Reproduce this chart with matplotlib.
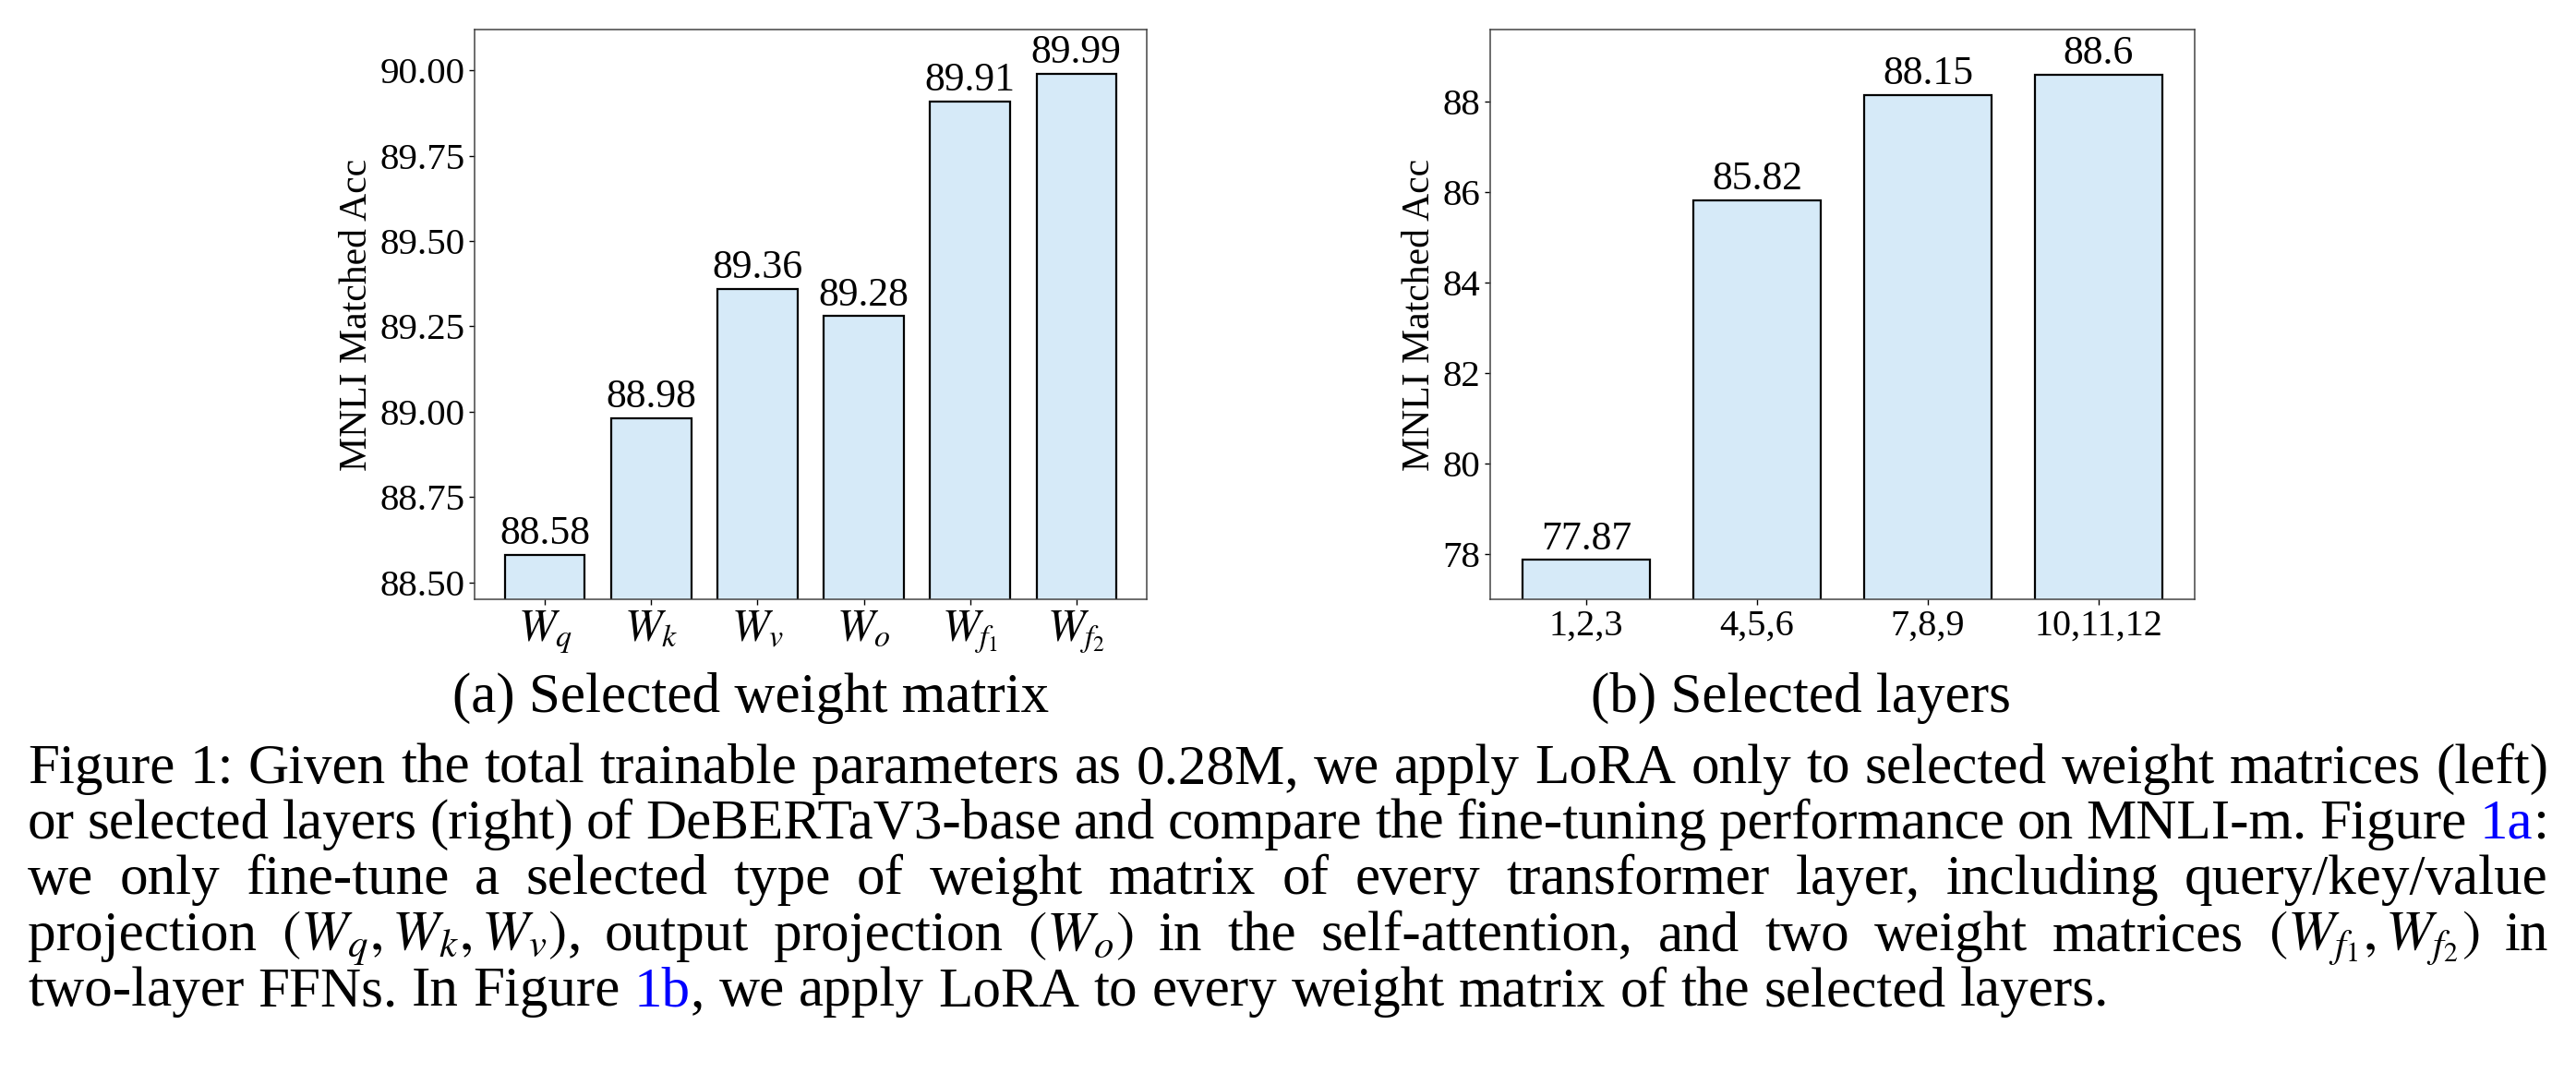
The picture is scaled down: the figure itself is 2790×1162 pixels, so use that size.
import matplotlib
matplotlib.use("Agg")
import matplotlib.pyplot as plt

# Data
weight_names = [r"$W_q$", r"$W_k$", r"$W_v$", r"$W_o$", r"$W_{f_1}$", r"$W_{f_2}$"]
weight_acc = [88.58, 88.98, 89.36, 89.28, 89.91, 89.99]

layer_groups = ["1,2,3", "4,5,6", "7,8,9", "10,11,12"]
layer_acc = [77.87, 85.82, 88.15, 88.6]

BLUE = "#0000ff"
caption_lines = [
    ["Figure", "1:", "Given", "the", "total", "trainable", "parameters", "as", "0.28M,", "we", "apply",
     "LoRA", "only", "to", "selected", "weight", "matrices", "(left)"],
    ["or", "selected", "layers", "(right)", "of", "DeBERTaV3-base", "and", "compare", "the", "fine-tuning",
     "performance", "on", "MNLI-m.", "Figure", [("1a", BLUE), (":", "black")]],
    ["we", "only", "fine-tune", "a", "selected", "type", "of", "weight", "matrix", "of", "every",
     "transformer", "layer,", "including", "query/key/value"],
    ["projection", r"$(W_q, W_k, W_v)$,", "output", "projection", r"$(W_o)$", "in", "the", "self-attention,",
     "and", "two", "weight", "matrices", r"$(W_{f_1}, W_{f_2})$", "in"],
    ["two-layer", "FFNs.", "In", "Figure", [("1b", BLUE), (",", "black")], "we", "apply", "LoRA", "to",
     "every", "weight", "matrix", "of", "the", "selected", "layers."],
]

plt.rcParams["font.family"] = ["Liberation Serif", "DejaVu Serif"]
plt.rcParams["mathtext.fontset"] = "stix"

W, H = 2790, 1162
fig = plt.figure(figsize=(W / 100, H / 100), dpi=100)

bar_color = "#d6eaf8"

ax1 = fig.add_axes([514 / W, 1 - 649 / H, 728 / W, 617 / H])
b1 = ax1.bar(range(len(weight_acc)), weight_acc, width=0.75, color=bar_color,
             edgecolor="black", linewidth=1.6)
ax1.bar_label(b1, fmt="%g", fontsize=31.5, padding=2)
ax1.set_ylim(88.45, 90.12)
ax1.set_yticks([88.5, 88.75, 89.0, 89.25, 89.5, 89.75, 90.0])
ax1.set_yticklabels(["88.50", "88.75", "89.00", "89.25", "89.50", "89.75", "90.00"])
ax1.set_xticks(range(len(weight_names)))
ax1.set_xticklabels(weight_names, fontsize=35)
ax1.set_ylabel("MNLI Matched Acc", fontsize=30)

ax2 = fig.add_axes([1614 / W, 1 - 649 / H, 763 / W, 617 / H])
b2 = ax2.bar(range(len(layer_acc)), layer_acc, width=0.75, color=bar_color,
             edgecolor="black", linewidth=1.6)
ax2.bar_label(b2, fmt="%g", fontsize=31.5, padding=2)
ax2.set_ylim(77.0, 89.6)
ax2.set_yticks([78, 80, 82, 84, 86, 88])
ax2.set_xticks(range(len(layer_groups)))
ax2.set_xticklabels(layer_groups, fontsize=29)
ax2.set_ylabel("MNLI Matched Acc", fontsize=30)

for ax in (ax1, ax2):
    ax.tick_params(axis="y", labelsize=29.5, length=4, width=1)
    ax.tick_params(axis="x", length=4, width=1)
    for sp in ax.spines.values():
        sp.set_color("#444444")
        sp.set_linewidth(1.1)

fig.text(813 / W, 1 - 756 / H, "(a) Selected weight matrix", fontsize=44, ha="center", va="center")
fig.text(1950 / W, 1 - 756 / H, "(b) Selected layers", fontsize=44, ha="center", va="center")

# caption, justified like the paper
cap_size = 44
left_px, right_px = 30, 2760
baselines = [848, 908, 968, 1029, 1089]

fig.canvas.draw()
renderer = fig.canvas.get_renderer()


def width_of(t):
    return t.get_window_extent(renderer).width


probe = fig.text(0, 0, "a a", fontsize=cap_size)
probe2 = fig.text(0, 0, "aa", fontsize=cap_size)
space_w = width_of(probe) - width_of(probe2)
probe.remove()
probe2.remove()

for i, words in enumerate(caption_lines):
    y = 1 - baselines[i] / H
    items = []
    for w in words:
        segs = w if isinstance(w, list) else [(w, "black")]
        texts = [fig.text(0, y, s, fontsize=cap_size, color=c, va="baseline") for s, c in segs]
        items.append(texts)
    widths = [sum(width_of(t) for t in ts) for ts in items]
    if i < len(caption_lines) - 1:
        gap = (right_px - left_px - sum(widths)) / (len(items) - 1)
    else:
        gap = space_w
    x = left_px
    for ts, wd in zip(items, widths):
        xx = x
        for t in ts:
            t.set_x(xx / W)
            xx += width_of(t)
        x += wd + gap

fig.savefig("out.png", dpi=100)
